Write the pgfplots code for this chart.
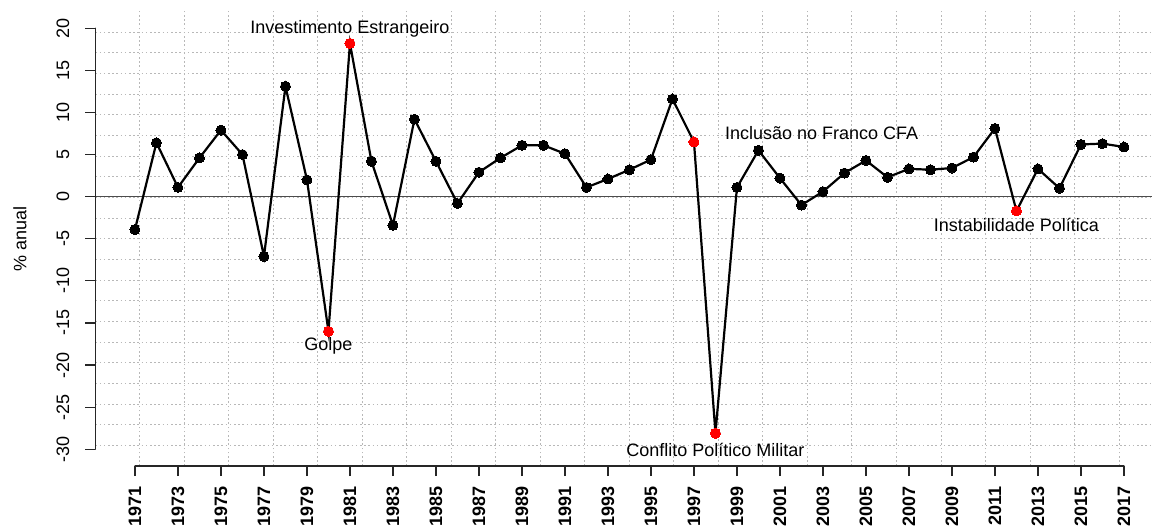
\documentclass[border=0pt]{standalone}
\usepackage{fontspec}
\setmainfont{Liberation Sans}
\usepackage{pgfplots}
\pgfplotsset{compat=1.18}
\newcommand{\fs}{\fontsize{18}{21.6}\selectfont}
\begin{document}
\begin{tikzpicture}
\useasboundingbox (0,0) rectangle (1152pt,527pt);
\clip (0,0) rectangle (1152pt,527pt);
\begin{axis}[
  at={(95.4pt,60.9pt)}, anchor=south west,
  x=21.5pt, y=8.42pt,
  xmin=1969.16, xmax=2018.3, ymin=-32, ymax=22,
  clip=false,
  axis x line*=bottom, axis y line*=left,
  axis line style={draw=none},
  tick align=outside,
  major tick length=10pt,
  every tick/.style={black!85, line width=1.2pt},
  xtick={1971,1973,...,2017},
  xticklabels={1971,1973,1975,1977,1979,1981,1983,1985,1987,1989,1991,1993,1995,1997,1999,2001,2003,2005,2007,2009,2011,2013,2015,2017},
  ytick={-30,-25,...,20},
  yticklabels={-30,-25,-20,-15,-10,-5,0,5,10,15,20},
  xticklabel style={font=\fs\bfseries, rotate=90, anchor=east, inner sep=0pt},
  yticklabel style={font=\fs, rotate=90, anchor=south, inner sep=0pt},
  xticklabel shift=10.5pt,
  yticklabel shift=16pt,
  extra x ticks={1971.23,1973.30,1975.37,1977.44,1979.51,1981.58,1983.65,1985.72,1987.79,1989.86,1991.93,1994.00,1996.07,1998.14,2000.21,2002.28,2004.35,2006.42,2008.49,2010.56,2012.63,2014.70,2016.77},
  extra x tick labels={},
  extra y ticks={-29.5455,-27.0909,-24.6364,-22.1818,-19.7273,-17.2727,-14.8182,-12.3636,-9.9091,-7.4545,-5.0,-2.5455,-0.0909,2.3636,4.8182,7.2727,9.7273,12.1818,14.6364,17.0909,19.5455},
  extra y tick labels={},
  extra tick style={major tick length=0pt, grid=major},
  major grid style={draw=black!28, line width=1pt, dash pattern=on 1.6pt off 2.6pt},
  ylabel={\fs \% anual},
  every axis y label/.style={at={(axis description cs:-0.0714,0.5)}, rotate=90, anchor=center},
]
% zero line
\addplot[black!70, line width=1pt] coordinates {(1969.16,0) (2018.3,0)};
% axis lines
\draw[black!85, line width=1.2pt, line cap=round] (axis cs:1969.16,-30) -- (axis cs:1969.16,20);
\draw[black!85, line width=1.2pt, line cap=round] (axis cs:1971,-32) -- (axis cs:2017,-32);
% series
\addplot[black, line width=2.2pt, mark=*, mark size=5pt, mark options={draw=black, fill=black, line width=0pt}] coordinates {
(1971,-3.9) (1972,6.4) (1973,1.1) (1974,4.6) (1975,7.9) (1976,5.0) (1977,-7.1) (1978,13.1)
(1979,2.0) (1980,-16.0) (1981,18.2) (1982,4.2) (1983,-3.4) (1984,9.2) (1985,4.2) (1986,-0.8)
(1987,2.9) (1988,4.6) (1989,6.1) (1990,6.1) (1991,5.1) (1992,1.1) (1993,2.1) (1994,3.2)
(1995,4.4) (1996,11.6) (1997,6.5) (1998,-28.1) (1999,1.1) (2000,5.5) (2001,2.2) (2002,-1.0)
(2003,0.6) (2004,2.8) (2005,4.3) (2006,2.3) (2007,3.3) (2008,3.2) (2009,3.4) (2010,4.7)
(2011,8.1) (2012,-1.7) (2013,3.3) (2014,1.0) (2015,6.2) (2016,6.3) (2017,5.9)};
\addplot[only marks, mark=*, mark size=5pt, mark options={draw=red, fill=red, line width=0pt}] coordinates {
(1980,-16.0) (1981,18.2) (1997,6.5) (1998,-28.1) (2012,-1.7)};
% annotations
\node[font=\fs, anchor=base, inner sep=0pt] at (axis cs:1981,19.4) {Investimento Estrangeiro};
\node[font=\fs, anchor=base, inner sep=0pt] at (axis cs:1980,-18.29) {Golpe};
\node[font=\fs, anchor=base, inner sep=0pt] at (axis cs:1998,-30.88) {Conflito Político Militar};
\node[font=\fs, anchor=base west, inner sep=0pt] at (axis cs:1998.44,6.73) {Inclusão no Franco CFA};
\node[font=\fs, anchor=base, inner sep=0pt] at (axis cs:2012,-4.19) {Instabilidade Política};
\end{axis}
\end{tikzpicture}
\end{document}
